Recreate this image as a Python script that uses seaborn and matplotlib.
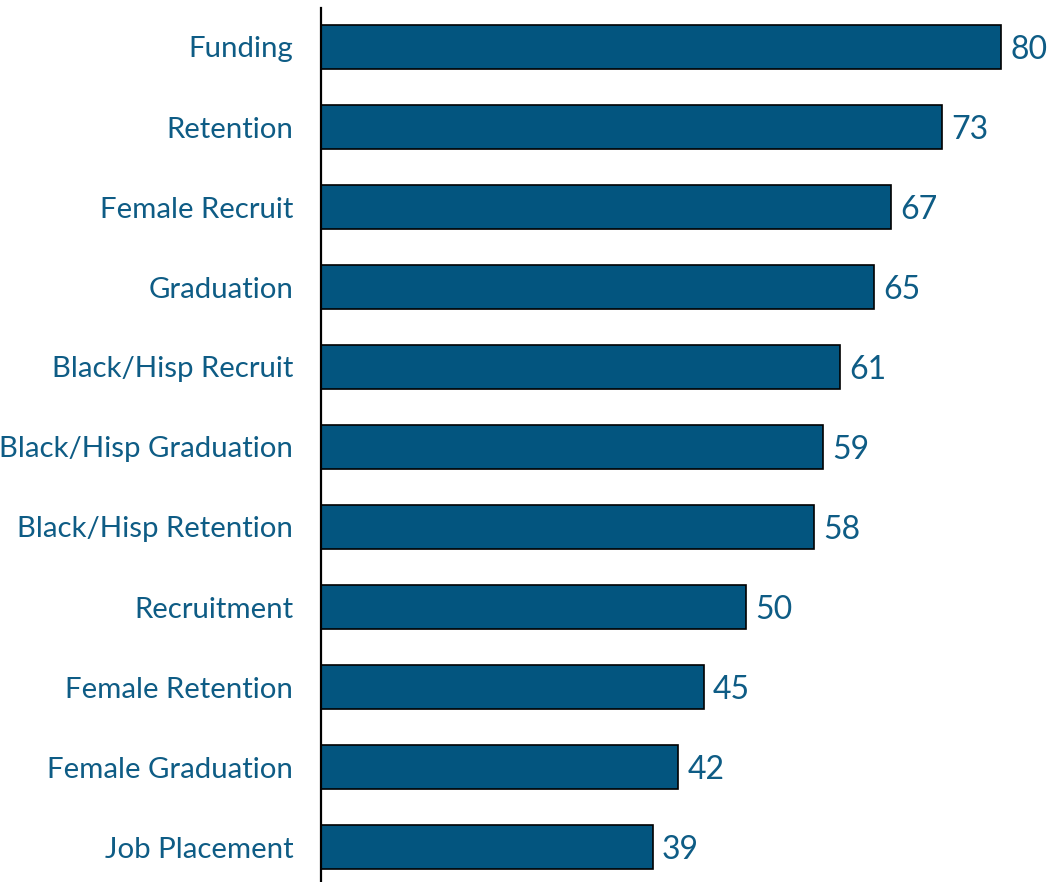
import matplotlib
matplotlib.use("Agg")
import matplotlib.pyplot as plt
import seaborn as sns
import pandas as pd

categories = ["Funding", "Retention", "Female Recruit", "Graduation", "Black/Hisp Recruit",
              "Black/Hisp Graduation", "Black/Hisp Retention", "Recruitment",
              "Female Retention", "Female Graduation", "Job Placement"]
values = [80, 73, 67, 65, 61, 59, 58, 50, 45, 42, 39]

sns.set_style("white")
plt.rcParams['font.family'] = ['Lato', 'DejaVu Sans']

df = pd.DataFrame({"category": categories, "value": values})

W, H = 1052, 882
fig = plt.figure(figsize=(W / 100, H / 100), dpi=100)
ax = fig.add_axes([321 / W, 0, (1043.5 - 321) / W, (882 - 8) / H])

bar_color = "#03557F"
text_color = "#0E5C85"

sns.barplot(data=df, x="value", y="category", orient="h", color=bar_color,
            width=0.55, edgecolor="black", linewidth=1.2, saturation=1, ax=ax)

ax.set_xlim(0, 85)
ax.set_ylim(10.4375, -0.4875)

for i, v in enumerate(values):
    ax.text(v + 1.1, i, f"{v}", va="center_baseline", ha="left", fontsize=23, color=text_color)

ax.set_xlabel("")
ax.set_ylabel("")
ax.set_xticks([])
ax.tick_params(axis="y", length=0, pad=20, labelsize=21.2, labelcolor=text_color)
for s in ["top", "right", "bottom"]:
    ax.spines[s].set_visible(False)
ax.spines["left"].set_color("black")
ax.spines["left"].set_linewidth(1.6)

fig.savefig("out.png", dpi=100)
